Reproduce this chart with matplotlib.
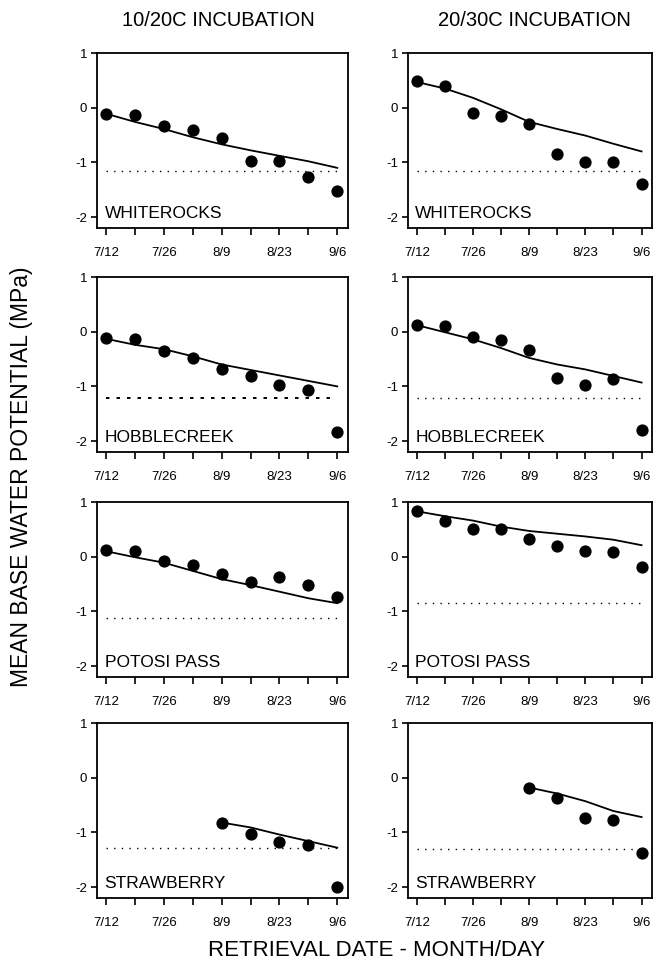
import matplotlib
matplotlib.use("Agg")
import matplotlib.pyplot as plt
import numpy as np

plt.rcParams['font.family'] = ['Liberation Sans', 'DejaVu Sans']

# ---------------- data ----------------
days = [0, 7, 14, 21, 28, 35, 42, 49, 56]          # days after 7/12
tick_days = [0, 7, 14, 21, 28, 35, 42, 49, 56]
tick_labels = ['7/12', '', '7/26', '', '8/9', '', '8/23', '', '9/6']
sites = ['WHITEROCKS', 'HOBBLECREEK', 'POTOSI PASS', 'STRAWBERRY']
titles = ['10/20C INCUBATION', '20/30C INCUBATION']
nan = np.nan

# 10/20C incubation: observed (dots), model (solid), base (dotted)
whiterocks_1020_obs = [-0.12, -0.14, -0.34, -0.40, -0.55, -0.98, -0.98, -1.27, -1.53]
whiterocks_1020_mod = [-0.11, -0.26, -0.39, -0.54, -0.67, -0.78, -0.88, -0.98, -1.10]
whiterocks_1020_base = -1.15
hobble_1020_obs = [-0.12, -0.13, -0.35, -0.48, -0.69, -0.81, -0.98, -1.06, -1.84]
hobble_1020_mod = [-0.13, -0.24, -0.32, -0.45, -0.60, -0.70, -0.80, -0.90, -1.00]
hobble_1020_base = -1.21
potosi_1020_obs = [0.12, 0.11, -0.08, -0.16, -0.31, -0.46, -0.37, -0.52, -0.74]
potosi_1020_mod = [0.10, -0.01, -0.11, -0.26, -0.41, -0.52, -0.64, -0.76, -0.85]
potosi_1020_base = -1.13
straw_1020_obs = [nan, nan, nan, nan, -0.82, -1.03, -1.18, -1.23, -2.00]
straw_1020_mod = [nan, nan, nan, nan, -0.82, -0.91, -1.04, -1.16, -1.28]
straw_1020_base = -1.28

# 20/30C incubation
whiterocks_2030_obs = [0.49, 0.39, -0.09, -0.15, -0.30, -0.84, -1.00, -1.00, -1.40]
whiterocks_2030_mod = [0.47, 0.35, 0.18, -0.03, -0.26, -0.39, -0.51, -0.66, -0.80]
whiterocks_2030_base = -1.16
hobble_2030_obs = [0.12, 0.11, -0.09, -0.15, -0.33, -0.85, -0.97, -0.86, -1.80]
hobble_2030_mod = [0.12, -0.01, -0.14, -0.30, -0.48, -0.60, -0.69, -0.81, -0.93]
hobble_2030_base = -1.22
potosi_2030_obs = [0.83, 0.66, 0.51, 0.51, 0.32, 0.20, 0.11, 0.09, -0.18]
potosi_2030_mod = [0.83, 0.74, 0.66, 0.55, 0.47, 0.42, 0.37, 0.31, 0.21]
potosi_2030_base = -0.84
straw_2030_obs = [nan, nan, nan, nan, -0.18, -0.38, -0.73, -0.77, -1.38]
straw_2030_mod = [nan, nan, nan, nan, -0.18, -0.29, -0.43, -0.61, -0.72]
straw_2030_base = -1.30

obs = [[whiterocks_1020_obs, whiterocks_2030_obs],
       [hobble_1020_obs, hobble_2030_obs],
       [potosi_1020_obs, potosi_2030_obs],
       [straw_1020_obs, straw_2030_obs]]
mod = [[whiterocks_1020_mod, whiterocks_2030_mod],
       [hobble_1020_mod, hobble_2030_mod],
       [potosi_1020_mod, potosi_2030_mod],
       [straw_1020_mod, straw_2030_mod]]
base = [[whiterocks_1020_base, whiterocks_2030_base],
        [hobble_1020_base, hobble_2030_base],
        [potosi_1020_base, potosi_2030_base],
        [straw_1020_base, straw_2030_base]]

# ---------------- layout ----------------
W, H = 657, 972
fig = plt.figure(figsize=(W / 100, H / 100), dpi=100)
col_left = [97, 408]
col_width = [251, 244]
title_x = [0.484, 0.52]
row_top = [53, 277, 502, 723]
ax_h = 175

for r in range(4):
    for c in range(2):
        ax = fig.add_axes([col_left[c] / W, 1 - (row_top[r] + ax_h) / H,
                           col_width[c] / W, ax_h / H])
        d = np.array(days, dtype=float)
        m = np.array(mod[r][c], dtype=float)
        o = np.array(obs[r][c], dtype=float)
        ok = ~np.isnan(m)
        ax.plot(d[ok], m[ok], color='black', lw=1.3, solid_joinstyle='round')
        ax.plot(d, o, 'o', color='black', ms=7.8, zorder=3)
        if r == 1 and c == 0:
            ls = (0, (1.8, 3.6))
            lw = 1.4
        else:
            ls = (0, (1, 4.5))
            lw = 1.0
        ax.plot([days[0], days[-1]], [base[r][c], base[r][c]],
                color='black', lw=lw, linestyle=ls)
        ax.set_xlim(-2.2, 58.6)
        ax.set_ylim(-2.2, 1.0)
        ax.set_yticks([-2, -1, 0, 1])
        ax.set_yticklabels(['-2', '-1', '0', '1'])
        ax.set_xticks(tick_days)
        ax.set_xticklabels(tick_labels)
        ax.tick_params(axis='both', direction='out', length=4, width=1.2,
                       labelsize=9.5, pad=3, colors='black')
        ax.tick_params(axis='x', length=5, pad=9)
        for s in ax.spines.values():
            s.set_linewidth(1.3)
        ax.text(0.03, 0.06, sites[r], transform=ax.transAxes,
                fontsize=12.5, ha='left', va='baseline')
        if r == 0:
            ax.text(title_x[c], 1 + 32 / ax_h, titles[c], transform=ax.transAxes,
                    fontsize=14.5, ha='center', va='center')

fig.text(377 / W, 1 - 950 / H, 'RETRIEVAL DATE - MONTH/DAY',
         fontsize=16, ha='center', va='center')
fig.text(22 / W, 1 - 477 / H, 'MEAN BASE WATER POTENTIAL (MPa)',
         fontsize=16.5, ha='center', va='center', rotation=90)

fig.savefig('out.png', dpi=100)
